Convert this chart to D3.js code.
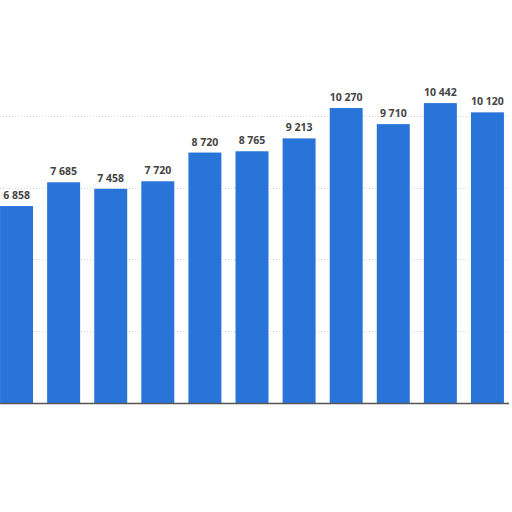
<!DOCTYPE html>
<html>
<head>
<meta charset="utf-8">
<script src="https://cdn.jsdelivr.net/npm/d3@7"></script>
<style>
  html, body { margin: 0; padding: 0; background: #fff; }
  svg { display: block; }
</style>
</head>
<body>
<svg id="chart" width="512" height="512"></svg>
<script>
// one bar per period, values
const categories = ["p1", "p2", "p3", "p4", "p5", "p6", "p7", "p8", "p9", "p10", "p11"]
const values = [6858, 7685, 7458, 7720, 8720, 8765, 9213, 10270, 9710, 10442, 10120]
const gridTicks = [2500, 5000, 7500, 10000]

const width = 512, height = 512
const svg = d3.select("#chart")

const x = d3.scaleBand()
    .domain(categories)
    .range([-7, 511])
    .paddingInner(0.3)
    .paddingOuter(0.15)

const y = d3.scaleLinear()
    .domain([0, 12500])
    .range([403, 44])

const fmt = n => d3.format(",")(n).replace(/,/g, " ")

// dotted grid lines
svg.append("g")
    .selectAll("line")
    .data(gridTicks)
    .join("line")
    .attr("x1", 0)
    .attr("x2", 510)
    .attr("y1", d => Math.round(y(d)) + 0.5)
    .attr("y2", d => Math.round(y(d)) + 0.5)
    .attr("stroke", "#d4d4d4")
    .attr("stroke-dasharray", "1,2")

svg.append("g")
    .selectAll("rect")
    .data(values)
    .join("rect")
    .attr("x", (d, i) => x(categories[i]))
    .attr("y", d => y(d))
    .attr("width", x.bandwidth())
    .attr("height", d => y(0) - y(d))
    .attr("fill", "#2874d8")

svg.append("g")
    .selectAll("text")
    .data(values)
    .join("text")
    .attr("x", (d, i) => x(categories[i]) + x.bandwidth() / 2)
    .attr("y", d => y(d) - 7)
    .attr("text-anchor", "middle")
    .style("font", "bold 10.5px 'Open Sans', sans-serif")
    .attr("fill", "#444")
    .text(d => fmt(d))

// baseline
svg.append("line")
    .attr("x1", 0)
    .attr("x2", 509)
    .attr("y1", y(0) + 0.5)
    .attr("y2", y(0) + 0.5)
    .attr("stroke", "#555")
    .attr("stroke-width", 1.5)
</script>
</body>
</html>
